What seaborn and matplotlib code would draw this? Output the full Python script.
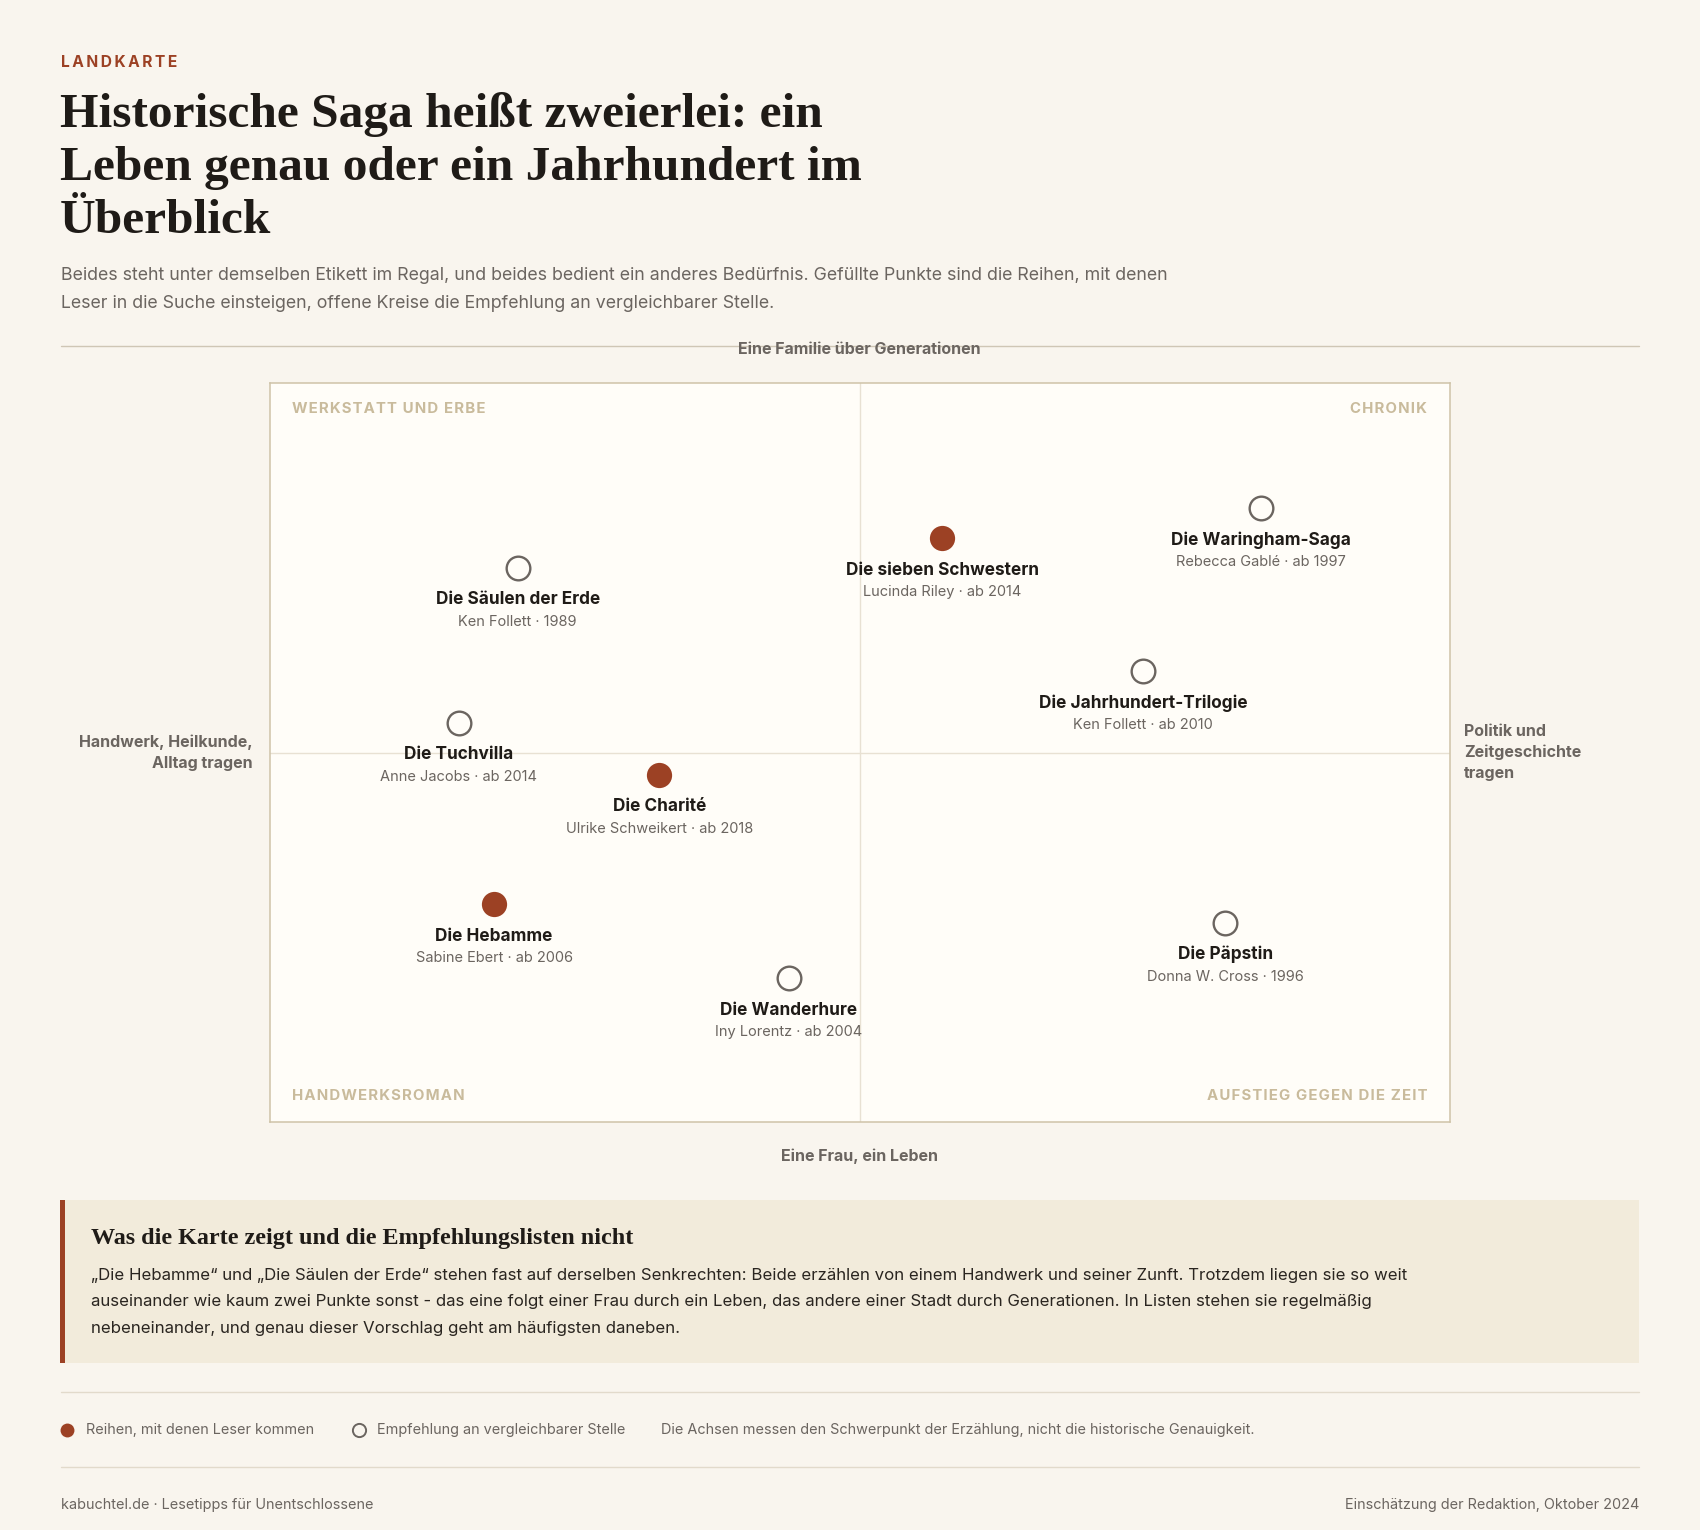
import numpy as np
import pandas as pd
import seaborn as sns
from matplotlib import pyplot as plt
from matplotlib.patches import Rectangle
from matplotlib.lines import Line2D

# ---- data ----
titles = ["Die Säulen der Erde", "Die Tuchvilla", "Die Charité", "Die Hebamme",
          "Die Wanderhure", "Die sieben Schwestern", "Die Waringham-Saga",
          "Die Jahrhundert-Trilogie", "Die Päpstin"]
bylines = ["Ken Follett · 1989", "Anne Jacobs · ab 2014", "Ulrike Schweikert · ab 2018",
           "Sabine Ebert · ab 2006", "Iny Lorentz · ab 2004", "Lucinda Riley · ab 2014",
           "Rebecca Gablé · ab 1997", "Ken Follett · ab 2010", "Donna W. Cross · 1996"]
# x: Handwerk/Alltag (0) -> Politik/Zeitgeschichte (100)
# y: eine Frau, ein Leben (0) -> Familie über Generationen (100)
x_pos = [21, 16, 33, 19, 44, 57, 84, 74, 81]
y_pos = [75, 54, 47, 29.5, 19.5, 79, 83, 61, 27]
kind = ["offen", "offen", "gefüllt", "gefüllt", "offen", "gefüllt", "offen", "offen", "offen"]
quadrants = ["WERKSTATT UND ERBE", "CHRONIK", "HANDWERKSROMAN", "AUFSTIEG GEGEN DIE ZEIT"]

df = pd.DataFrame({"title": titles, "byline": bylines, "x": x_pos, "y": y_pos, "kind": kind})

# ---- style ----
BG = "#f9f5ee"
PANEL = "#fffdf8"
RUST = "#9c4124"
INK = "#1f1b17"
GREY = "#6b6560"
TAN = "#c9bb9c"

sns.set_theme(style="white")
plt.rcParams['font.family'] = ['Inter', 'DejaVu Sans']
SERIF = ['Liberation Serif', 'DejaVu Serif']

W, H = 1568, 1411  # layout grid in reference pixels
fig = plt.figure(figsize=(17, 15.3), dpi=100, facecolor=BG)


def fx(x):
    return x / W


def fy(y):
    return 1 - y / H


def txt(x, y, s, **kw):
    kw.setdefault("va", "center")
    fig.text(fx(x), fy(y), s, **kw)


def spaced(s, sep="\u200a"):
    return sep.join(s)


# ---- header ----
txt(56, 58, spaced("LANDKARTE", "\u2009"), color=RUST, fontsize=11.2, fontweight="bold")
for i, line in enumerate(["Historische Saga heißt zweierlei: ein",
                          "Leben genau oder ein Jahrhundert im", "Überblick"]):
    txt(55, 106 + i * 49, line, color=INK, fontsize=35.6, fontweight="bold", family=SERIF)
txt(56, 254, "Beides steht unter demselben Etikett im Regal, und beides bedient ein anderes Bedürfnis. "
             "Gefüllte Punkte sind die Reihen, mit denen", color=GREY, fontsize=12.8)
txt(56, 280, "Leser in die Suche einsteigen, offene Kreise die Empfehlung an vergleichbarer Stelle.",
    color=GREY, fontsize=12.8)
fig.add_artist(Line2D([fx(56), fx(1512)], [fy(319), fy(319)], color="#cfc6b5", lw=1))

# ---- map ----
ax = fig.add_axes([fx(249), fy(1035), fx(1088), 682 / H])
ax.set_facecolor(PANEL)
ax.set_xlim(0, 100)
ax.set_ylim(0, 100)
ax.axvline(50, color="#e8e1d3", lw=1, zorder=0)
ax.axhline(50, color="#e8e1d3", lw=1, zorder=0)
for sp in ax.spines.values():
    sp.set_color("#cfc3a8")
    sp.set_linewidth(1.1)
ax.set_xticks([])
ax.set_yticks([])

sns.scatterplot(data=df[df.kind == "gefüllt"], x="x", y="y", s=330, color=RUST,
                edgecolor=RUST, linewidth=0, ax=ax, legend=False, zorder=3)
sns.scatterplot(data=df[df.kind == "offen"], x="x", y="y", s=290, facecolor=PANEL,
                edgecolor=GREY, linewidth=1.7, ax=ax, legend=False, zorder=3)
ax.set_xlabel("")
ax.set_ylabel("")

for _, r in df.iterrows():
    ax.annotate(r.title, (r.x, r.y), xytext=(0, -32), textcoords="offset pixels",
                ha="center", va="center", fontsize=12.4, fontweight="bold", color=INK)
    ax.annotate(r.byline, (r.x, r.y), xytext=(0, -54), textcoords="offset pixels",
                ha="center", va="center", fontsize=10.5, color=GREY)

qkw = dict(color=TAN, fontsize=10.8, fontweight="bold", transform=ax.transAxes, va="center")
ax.text(0.019, 0.965, spaced(quadrants[0]), ha="left", **qkw)
ax.text(0.981, 0.965, spaced(quadrants[1]), ha="right", **qkw)
ax.text(0.019, 0.035, spaced(quadrants[2]), ha="left", **qkw)
ax.text(0.981, 0.035, spaced(quadrants[3]), ha="right", **qkw)

akw = dict(color=GREY, fontsize=11.5, fontweight="bold")
txt(793, 322, "Eine Familie über Generationen", ha="center", **akw)
txt(793, 1066, "Eine Frau, ein Leben", ha="center", **akw)
txt(233, 694, "Handwerk, Heilkunde,\nAlltag tragen", ha="right", linespacing=1.5, **akw)
txt(1350, 694, "Politik und\nZeitgeschichte\ntragen", ha="left", linespacing=1.5, **akw)

# ---- callout ----
fig.add_artist(Rectangle((fx(56), fy(1257)), fx(1456), 150 / H, facecolor="#f2ebdb",
                         edgecolor="none"))
fig.add_artist(Rectangle((fx(55), fy(1257)), fx(4.5), 150 / H, facecolor=RUST,
                         edgecolor="none"))
txt(84, 1142, "Was die Karte zeigt und die Empfehlungslisten nicht", color=INK,
    fontsize=17.4, fontweight="bold", family=SERIF)
body = ["„Die Hebamme“ und „Die Säulen der Erde“ stehen fast auf derselben Senkrechten: Beide erzählen "
        "von einem Handwerk und seiner Zunft. Trotzdem liegen sie so weit",
        "auseinander wie kaum zwei Punkte sonst - das eine folgt einer Frau durch ein Leben, das andere "
        "einer Stadt durch Generationen. In Listen stehen sie regelmäßig",
        "nebeneinander, und genau dieser Vorschlag geht am häufigsten daneben."]
for i, line in enumerate(body):
    txt(84, 1176 + i * 24.5, line, color="#2a2520", fontsize=12.15)

# ---- legend + footer ----
fig.add_artist(Line2D([fx(56), fx(1512)], [fy(1284), fy(1284)], color="#e2dacb", lw=1))
fig.add_artist(Line2D([fx(62)], [fy(1319)], marker="o", markersize=10, color=RUST,
                      markeredgewidth=0))
txt(79, 1319, "Reihen, mit denen Leser kommen", color=GREY, fontsize=10.4)
fig.add_artist(Line2D([fx(331)], [fy(1319)], marker="o", markersize=9.5, markerfacecolor=BG,
                      markeredgecolor=GREY, markeredgewidth=1.4))
txt(348, 1319, "Empfehlung an vergleichbarer Stelle", color=GREY, fontsize=10.4)
txt(610, 1319, "Die Achsen messen den Schwerpunkt der Erzählung, nicht die historische Genauigkeit.",
    color=GREY, fontsize=10.4)
fig.add_artist(Line2D([fx(56), fx(1512)], [fy(1353), fy(1353)], color="#e2dacb", lw=1))
txt(56, 1388, "kabuchtel.de · Lesetipps für Unentschlossene", color=GREY, fontsize=10.4)
txt(1512, 1388, "Einschätzung der Redaktion, Oktober 2024", color=GREY, fontsize=10.4, ha="right")

plt.savefig("out.png", dpi=100, facecolor=BG)
